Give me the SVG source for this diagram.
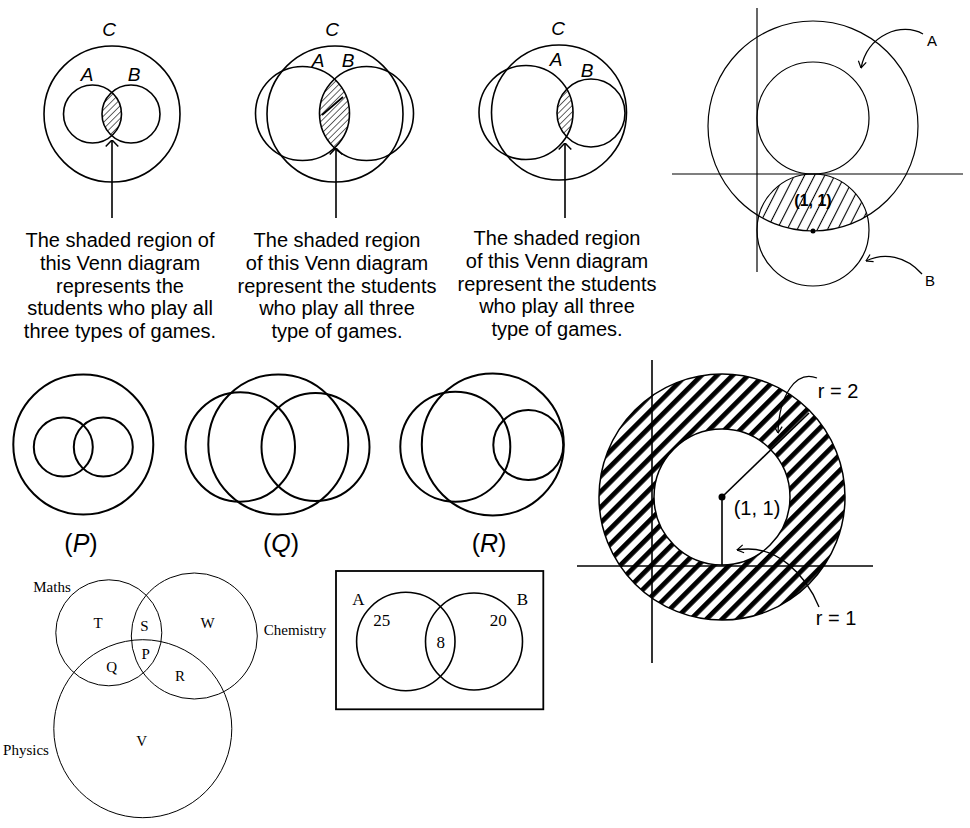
<svg xmlns="http://www.w3.org/2000/svg" width="970" height="828" viewBox="0 0 970 828">
<style>
.c{fill:none;stroke:#000;stroke-width:1.6}
.c2{fill:none;stroke:#000;stroke-width:2}
.c1{fill:none;stroke:#000;stroke-width:1.2}
.c0{fill:none;stroke:#000;stroke-width:1}
.ln{fill:none;stroke:#000;stroke-width:1.6}
.ar{fill:none;stroke:#000;stroke-width:1.3}
.cap{font-family:"Liberation Sans",Arial,Helvetica,sans-serif;font-size:20px;text-anchor:middle;fill:#000}
.it{font-family:"Liberation Sans",Arial,Helvetica,sans-serif;font-style:italic;font-size:19px;text-anchor:middle;fill:#000}
.lb{font-family:"Liberation Sans",Arial,Helvetica,sans-serif;font-size:25px;text-anchor:middle;fill:#000}
.sn{font-family:"Liberation Sans",Arial,Helvetica,sans-serif;font-size:15px;text-anchor:middle;fill:#000}
.sn2{font-family:"Liberation Sans",Arial,Helvetica,sans-serif;font-size:20px;text-anchor:middle;fill:#000}
.tm{font-family:"Liberation Serif","Times New Roman",serif;font-size:15px;text-anchor:middle;fill:#000}
.tm2{font-family:"Liberation Serif","Times New Roman",serif;font-size:17px;text-anchor:middle;fill:#000}
</style>
<defs>
<pattern id="hatchGray" width="4.5" height="4.5" patternUnits="userSpaceOnUse" patternTransform="rotate(45)">
<line x1="2.25" y1="0" x2="2.25" y2="4.5" stroke="#555" stroke-width="0.9"/>
</pattern>
<pattern id="hatch4" width="9" height="9" patternUnits="userSpaceOnUse" patternTransform="rotate(27)">
<line x1="4.5" y1="0" x2="4.5" y2="9" stroke="#000" stroke-width="1.1"/>
</pattern>
<pattern id="stripe" width="11" height="11" patternUnits="userSpaceOnUse" patternTransform="rotate(45)">
<rect x="0" y="0" width="4.8" height="11" fill="#000"/>
</pattern>
<clipPath id="clip1"><circle cx="92.5" cy="114" r="29"/></clipPath>
<clipPath id="clip2"><circle cx="302.5" cy="113.5" r="47"/></clipPath>
<clipPath id="clip3"><circle cx="526" cy="112.5" r="47"/></clipPath>
<clipPath id="clip4"><circle cx="813" cy="126" r="105"/></clipPath>
<marker id="chev" viewBox="0 -7 10 14" refX="9.5" refY="0" markerWidth="10" markerHeight="14" orient="auto" markerUnits="userSpaceOnUse">
<path d="M3,-6.3 L9.5,0 L3,6.3" fill="none" stroke="#000" stroke-width="1.5"/>
</marker>
<marker id="barb" viewBox="0 -5 8 10" refX="7.5" refY="0" markerWidth="8" markerHeight="10" orient="auto" markerUnits="userSpaceOnUse">
<path d="M1,-4 L7.5,0 L1,4" fill="none" stroke="#000" stroke-width="1.2"/>
</marker>
</defs>

<!-- Venn 1 -->
<g id="venn1">
<circle cx="131" cy="114" r="29" fill="url(#hatchGray)" clip-path="url(#clip1)"/>
<circle cx="112" cy="114" r="68" class="c"/>
<circle cx="92.5" cy="114" r="29" class="c"/>
<circle cx="131" cy="114" r="29" class="c"/>
<text class="it" x="109" y="36">C</text>
<text class="it" x="87" y="81">A</text>
<text class="it" x="134" y="81">B</text>
</g>
<g id="caption1">
<text class="cap" x="120" y="247">The shaded region of</text>
<text class="cap" x="120" y="270">this Venn diagram</text>
<text class="cap" x="120" y="293">represents the</text>
<text class="cap" x="120" y="315">students who play all</text>
<text class="cap" x="120" y="338">three types of games.</text>
</g>

<!-- Venn 2 -->
<g id="venn2">
<circle cx="366.5" cy="113.5" r="47" fill="url(#hatchGray)" clip-path="url(#clip2)"/>
<line x1="322" y1="115" x2="343" y2="97" stroke="#000" stroke-width="1.8" clip-path="url(#clip2)"/>
<circle cx="335" cy="114" r="68" class="c"/>
<circle cx="302.5" cy="113.5" r="47" class="c"/>
<circle cx="366.5" cy="113.5" r="47" class="c"/>
<text class="it" x="332" y="36">C</text>
<text class="it" x="318" y="67">A</text>
<text class="it" x="348" y="67">B</text>
</g>
<g id="caption2">
<text class="cap" x="337" y="247">The shaded region</text>
<text class="cap" x="337" y="270">of this Venn diagram</text>
<text class="cap" x="337" y="293">represent the students</text>
<text class="cap" x="337" y="315">who play all three</text>
<text class="cap" x="337" y="338">type of games.</text>
</g>

<!-- Venn 3 -->
<g id="venn3">
<circle cx="591" cy="113" r="34" fill="url(#hatchGray)" clip-path="url(#clip3)"/>
<circle cx="559" cy="112.5" r="67.5" class="c"/>
<circle cx="526" cy="112.5" r="47" class="c"/>
<circle cx="591" cy="113" r="34" class="c"/>
<text class="it" x="558" y="35">C</text>
<text class="it" x="556" y="66">A</text>
<text class="it" x="587" y="77">B</text>
</g>
<g id="caption3">
<text class="cap" x="557" y="245">The shaded region</text>
<text class="cap" x="557" y="268">of this Venn diagram</text>
<text class="cap" x="557" y="291">represent the students</text>
<text class="cap" x="557" y="313">who play all three</text>
<text class="cap" x="557" y="336">type of games.</text>
</g>

<!-- Diagram 4: circles with axes -->
<g id="circlesAB">
<circle cx="813" cy="230" r="56" fill="url(#hatch4)" clip-path="url(#clip4)"/>
<line x1="757" y1="8" x2="757" y2="272" class="c1"/>
<line x1="672" y1="174" x2="963" y2="174" class="c1"/>
<circle cx="813" cy="126" r="105" class="c1"/>
<circle cx="813" cy="118" r="56" class="c1"/>
<circle cx="813" cy="230" r="56" class="c1"/>
<circle cx="813" cy="231" r="2.5" fill="#000"/>
<text x="813" y="206" font-family="Liberation Sans, Arial, sans-serif" font-weight="bold" font-size="16" text-anchor="middle">(1, 1)</text>
<text class="sn" x="932" y="46">A</text>
<text class="sn" x="930" y="286">B</text>
</g>

<!-- Row P Q R -->
<g id="vennP">
<circle cx="83.3" cy="444.5" r="70" class="c2"/>
<circle cx="63.3" cy="447" r="29.5" class="c2"/>
<circle cx="103.3" cy="447" r="29.5" class="c2"/>
<text class="lb" x="81" y="552">(<tspan font-style="italic">P</tspan>)</text>
</g>
<g id="vennQ">
<circle cx="278.3" cy="444.5" r="70" class="c2"/>
<circle cx="240.3" cy="447" r="54.7" class="c2"/>
<circle cx="315.5" cy="447" r="54" class="c2"/>
<text class="lb" x="281" y="552">(<tspan font-style="italic">Q</tspan>)</text>
</g>
<g id="vennR">
<circle cx="492.8" cy="444.5" r="71" class="c2"/>
<circle cx="455.3" cy="446.7" r="55" class="c2"/>
<circle cx="528.3" cy="445" r="35" class="c2"/>
<text class="lb" x="489" y="552">(<tspan font-style="italic">R</tspan>)</text>
</g>

<!-- Annulus -->
<g id="annulus">
<circle cx="722" cy="497" r="123" fill="url(#stripe)" stroke="#000" stroke-width="1.5"/>
<circle cx="722" cy="497" r="68" fill="#fff" stroke="#000" stroke-width="1.5"/>
<line x1="652" y1="360" x2="652" y2="663" class="ln"/>
<line x1="577" y1="566" x2="873" y2="566" class="ln"/>
<line x1="722" y1="497" x2="809" y2="413" class="ln"/>
<line x1="722" y1="497" x2="722" y2="565" class="ln"/>
<circle cx="722" cy="497" r="3.5" fill="#000"/>
<text class="sn2" x="757" y="515">(1, 1)</text>
<text class="sn2" x="838" y="398">r = 2</text>
<text class="sn2" x="836" y="625">r = 1</text>
</g>

<!-- Maths / Chemistry / Physics -->
<g id="venn3sets">
<circle cx="108.8" cy="632.8" r="53" class="c0"/>
<circle cx="194.3" cy="636" r="63" class="c0"/>
<circle cx="142.8" cy="728.7" r="89" class="c0"/>
<text class="tm" x="52" y="592">Maths</text>
<text class="tm" x="295" y="635">Chemistry</text>
<text class="tm" x="26" y="755">Physics</text>
<text class="tm" x="98" y="628">T</text>
<text class="tm" x="144.5" y="631">S</text>
<text class="tm" x="207.5" y="628">W</text>
<text class="tm" x="145.7" y="659">P</text>
<text class="tm" x="111.7" y="672">Q</text>
<text class="tm" x="180" y="681">R</text>
<text class="tm" x="141.7" y="746">V</text>
</g>

<!-- Box Venn -->
<g id="boxVenn">
<rect x="336" y="571" width="207.3" height="138.3" fill="none" stroke="#000" stroke-width="1.8"/>
<circle cx="405.8" cy="641.5" r="49.2" class="c"/>
<circle cx="474" cy="641.5" r="48.5" class="c"/>
<text class="tm2" x="358.3" y="605">A</text>
<text class="tm2" x="522.3" y="605">B</text>
<text class="tm2" x="381.7" y="626">25</text>
<text class="tm2" x="498.3" y="626">20</text>
<text class="tm2" x="440.7" y="648">8</text>
</g>

<!-- Connectors -->
<g id="connectors">
<path d="M112,218 V140" class="ln" marker-end="url(#chev)"/>
<path d="M336,218 V148" class="ln" marker-end="url(#chev)"/>
<path d="M565,218 V143" class="ln" marker-end="url(#chev)"/>
<path d="M923,34 C902,22 868,34 861,68" class="ar" marker-end="url(#barb)"/>
<path d="M922,274 C906,256 884,252 866,261" class="ar" marker-end="url(#barb)"/>
<path d="M817,378 C796,370 779,395 778,433" class="ar" marker-end="url(#barb)"/>
<path d="M819,607 C806,575 776,543 737,550" class="ar" marker-end="url(#barb)"/>
</g>
</svg>
